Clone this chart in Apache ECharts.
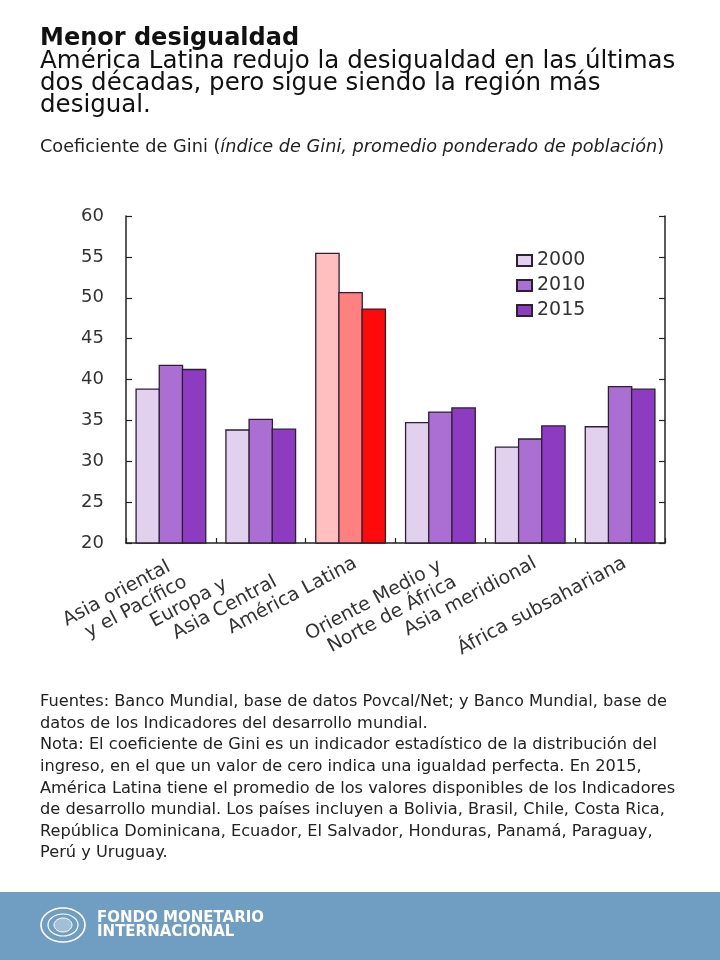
<!DOCTYPE html>
<html>
<head>
<meta charset="utf-8">
<script src="https://cdn.jsdelivr.net/npm/echarts@6/dist/echarts.min.js"></script>
<style>
  html, body { margin: 0; padding: 0; background: #ffffff; }
  #chart { width: 720px; height: 960px; }
</style>
</head>
<body>
<div id="chart"></div>
<script>
// ---- Data ----
const categories = [
  'Asia oriental\ny el Pacífico',
  'Europa y\nAsia Central',
  'América Latina',
  'Oriente Medio y\nNorte de África',
  'Asia meridional',
  'África subsahariana'
];
const seriesNames = ['2000', '2010', '2015'];
const gini2000 = [38.9, 33.9, 55.5, 34.8, 31.8, 34.3];
const gini2010 = [41.8, 35.2, 50.7, 36.1, 32.8, 39.2];
const gini2015 = [41.3, 34.0, 48.7, 36.6, 34.4, 38.9];
const yTicks = [20, 25, 30, 35, 40, 45, 50, 55, 60];

const titleText = 'Menor desigualdad';
const subtitleLines = [
  'América Latina redujo la desigualdad en las últimas',
  'dos décadas, pero sigue siendo la región más',
  'desigual.'
];
const noteLines = [
  'Fuentes: Banco Mundial, base de datos Povcal/Net; y Banco Mundial, base de',
  'datos de los Indicadores del desarrollo mundial.',
  'Nota: El coeficiente de Gini es un indicador estadístico de la distribución del',
  'ingreso, en el que un valor de cero indica una igualdad perfecta. En 2015,',
  'América Latina tiene el promedio de los valores disponibles de los Indicadores',
  'de desarrollo mundial. Los países incluyen a Bolivia, Brasil, Chile, Costa Rica,',
  'República Dominicana, Ecuador, El Salvador, Honduras, Panamá, Paraguay,',
  'Perú y Uruguay.'
];

// ---- Styles ----
const FONT = '"DejaVu Sans", Verdana, sans-serif';
const purpleColors = ['#e2d0ef', '#ab6fd4', '#8d3bc0'];
const latamColors = ['#ffbfbf', '#ff8080', '#ff0a0a'];
const latamIndex = 2;
const borderColor = '#2e1f33';

function buildData(values, k) {
  return values.map((v, i) => i === latamIndex
    ? { value: v, itemStyle: { color: latamColors[k] } }
    : v);
}
const allValues = [gini2000, gini2010, gini2015];

const chart = echarts.init(document.getElementById('chart'), null, { renderer: 'canvas' });

const graphics = [];
graphics.push({
  type: 'text', x: 40, y: 39,
  style: { text: titleText, font: 'bold 24px ' + FONT, fill: '#111', textVerticalAlign: 'middle' }
});
subtitleLines.forEach((t, i) => graphics.push({
  type: 'text', x: 40, y: 62 + i * 22,
  style: { text: t, font: '24.5px ' + FONT, fill: '#111', textVerticalAlign: 'middle' }
}));
graphics.push({
  type: 'text', x: 40, y: 147,
  style: {
    text: '{n|Coeficiente de Gini (}{i|índice de Gini, promedio ponderado de población}{n|)}',
    verticalAlign: 'middle',
    rich: {
      n: { fontFamily: FONT, fontSize: 17.7, fill: '#222', color: '#222' },
      i: { fontFamily: FONT, fontSize: 17.7, fontStyle: 'italic', fill: '#222', color: '#222' }
    }
  }
});
noteLines.forEach((t, i) => graphics.push({
  type: 'text', x: 40, y: 702 + i * 21.6,
  style: { text: t, font: '16.2px ' + FONT, fill: '#222', textVerticalAlign: 'middle' }
}));
// bottom band
graphics.push({
  type: 'rect', shape: { x: 0, y: 892, width: 720, height: 68 },
  style: { fill: '#6f9ec2' }, z: 0
});
// logo (seal)
graphics.push({
  type: 'ellipse', shape: { cx: 63, cy: 925, rx: 22, ry: 17 },
  style: { fill: 'none', stroke: '#ffffff', lineWidth: 1.6 }
});
graphics.push({
  type: 'ellipse', shape: { cx: 63, cy: 925, rx: 15, ry: 11 },
  style: { fill: 'none', stroke: '#ffffff', lineWidth: 1.2 }
});
graphics.push({
  type: 'ellipse', shape: { cx: 63, cy: 925, rx: 9, ry: 7 },
  style: { fill: 'rgba(255,255,255,0.35)', stroke: '#ffffff', lineWidth: 1 }
});
graphics.push({
  type: 'text', x: 97, y: 918,
  style: { text: 'FONDO MONETARIO', font: 'bold 15px ' + FONT, fill: '#ffffff', textVerticalAlign: 'middle' }
});
graphics.push({
  type: 'text', x: 97, y: 932,
  style: { text: 'INTERNACIONAL', font: 'bold 15px ' + FONT, fill: '#ffffff', textVerticalAlign: 'middle' }
});

const yAxisCommon = {
  type: 'value',
  min: yTicks[0],
  max: yTicks[yTicks.length - 1],
  interval: yTicks[1] - yTicks[0],
  splitLine: { show: false },
  axisLine: { show: true, lineStyle: { color: '#222', width: 1.5 } },
  axisTick: { show: true, inside: true, length: 6, lineStyle: { color: '#222', width: 1.2 } }
};

const labelText = { fontFamily: FONT, fontSize: 19, lineHeight: 21, color: '#333' };

const option = {
  backgroundColor: '#ffffff',
  animation: false,
  grid: { left: 126, right: 55, top: 216, bottom: 417, containLabel: false, outerBoundsMode: 'none' },
  legend: {
    data: seriesNames,
    orient: 'vertical',
    left: 511,
    top: 246,
    itemWidth: 15,
    itemHeight: 11,
    itemGap: 6,
    icon: 'rect',
    textStyle: { fontFamily: FONT, fontSize: 19, color: '#333' }
  },
  xAxis: {
    type: 'category',
    data: categories,
    axisLine: { show: true, lineStyle: { color: '#222', width: 1.5 } },
    axisTick: { show: true, inside: true, length: 5, alignWithLabel: false, lineStyle: { color: '#222', width: 1.2 } },
    axisLabel: {
      interval: 0,
      rotate: 28,
      margin: 10,
      align: 'right',
      verticalAlign: 'top',
      formatter: function (value) {
        return value.split('\n').map((l, i) => '{' + (i === 0 ? 'a' : 'b') + '|' + l + '}').join('\n');
      },
      rich: {
        a: Object.assign({ align: 'left' }, labelText),
        b: Object.assign({ align: 'left', padding: [0, 0, 0, 14] }, labelText)
      }
    }
  },
  yAxis: [
    Object.assign({}, yAxisCommon, {
      position: 'left',
      axisLabel: { show: true, margin: 22, fontFamily: FONT, fontSize: 18, color: '#333' }
    }),
    Object.assign({}, yAxisCommon, {
      position: 'right',
      axisLabel: { show: false }
    })
  ],
  series: seriesNames.map((name, k) => ({
    name: name,
    type: 'bar',
    yAxisIndex: 0,
    barGap: '-6%',
    barCategoryGap: '21%',
    itemStyle: { color: purpleColors[k], borderColor: borderColor, borderWidth: 1.3 },
    emphasis: { disabled: true },
    data: buildData(allValues[k], k)
  })),
  graphic: graphics
};

chart.setOption(option);
</script>
</body>
</html>
